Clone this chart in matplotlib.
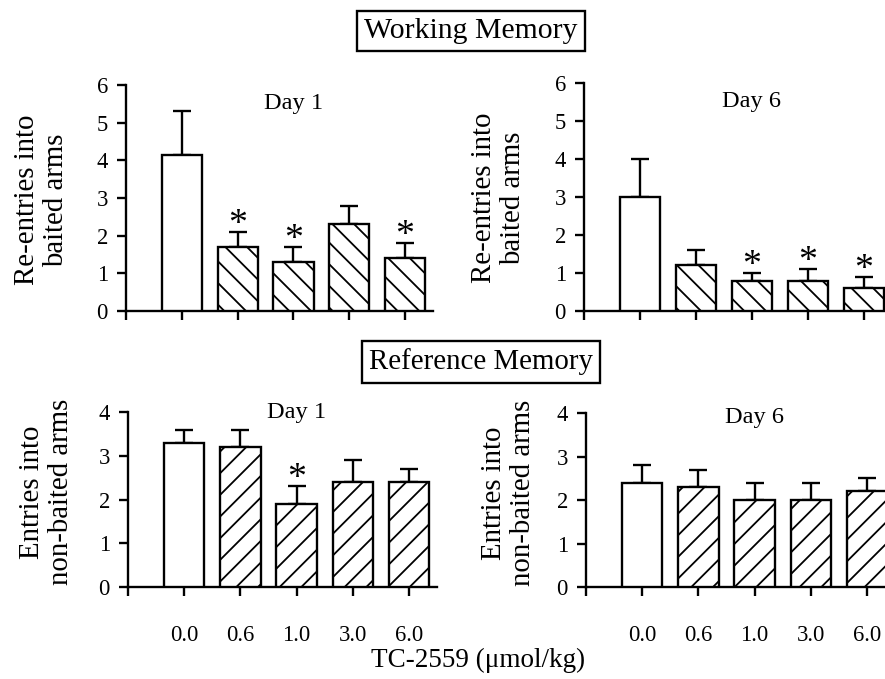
import numpy as np
import matplotlib
matplotlib.use("Agg")
import matplotlib.pyplot as plt

plt.rcParams['font.family'] = ['Liberation Serif', 'DejaVu Serif']
plt.rcParams['hatch.linewidth'] = 1.0
plt.rcParams['hatch.color'] = 'black'

W, H, DPI = 885, 679, 130

doses = ['0.0', '0.6', '1.0', '3.0', '6.0']

# Working memory: re-entries into baited arms
wm_day1 = [4.15, 1.7, 1.3, 2.3, 1.4]
wm_day1_err = [1.15, 0.4, 0.4, 0.5, 0.4]
wm_day1_sig = [False, True, True, False, True]

wm_day6 = [3.0, 1.2, 0.8, 0.8, 0.6]
wm_day6_err = [1.0, 0.4, 0.2, 0.3, 0.3]
wm_day6_sig = [False, False, True, True, True]

# Reference memory: entries into non-baited arms
rm_day1 = [3.3, 3.2, 1.9, 2.4, 2.4]
rm_day1_err = [0.3, 0.4, 0.4, 0.5, 0.3]
rm_day1_sig = [False, False, True, False, False]

rm_day6 = [2.4, 2.3, 2.0, 2.0, 2.2]
rm_day6_err = [0.4, 0.4, 0.4, 0.4, 0.3]
rm_day6_sig = [False] * 5


def px_rect(left, right, bottom, top):
    return [left / W, 1 - bottom / H, (right - left) / W, (bottom - top) / H]


def draw_panel(rect, vals, errs, sig, ymax, hatch, title, title_y, show_labels):
    ax = fig.add_axes(rect)
    x = np.arange(1, len(vals) + 1)
    colors = ['white'] * len(vals)
    hatches = [''] + [hatch] * (len(vals) - 1)
    bars = ax.bar(x, vals, width=0.72, color=colors, edgecolor='black', linewidth=1.3, zorder=3)
    for b, h in zip(bars, hatches):
        b.set_hatch(h)
    ax.errorbar(x, vals, yerr=[np.zeros(len(vals)), errs], fmt='none', ecolor='black',
                elinewidth=1.3, capsize=5, capthick=1.3, zorder=2)
    for xi, v, e, s in zip(x, vals, errs, sig):
        if s:
            ax.annotate('*', xy=(xi, v + e), xytext=(0, -1), textcoords='offset points',
                        ha='center', va='baseline', fontsize=21)
    ax.set_xlim(0, 5.5)
    ax.set_ylim(0, ymax)
    ax.set_yticks(range(0, ymax + 1))
    ax.set_xticks(range(0, 6))
    if show_labels:
        ax.set_xticklabels([''] + doses)
    else:
        ax.set_xticklabels([''] * 6)
    for sp in ['top', 'right']:
        ax.spines[sp].set_visible(False)
    for sp in ['left', 'bottom']:
        ax.spines[sp].set_linewidth(1.3)
    ax.tick_params(axis='y', direction='out', length=5, width=1.3, pad=5, labelsize=12.5)
    ax.tick_params(axis='x', direction='out', length=5, width=1.3, pad=16, labelsize=12.5)
    ax.text(3, title_y, title, ha='center', va='center', fontsize=13.5)
    ax.patch.set_alpha(0)
    return ax


fig = plt.figure(figsize=(W / DPI, H / DPI), dpi=DPI)

draw_panel(px_rect(126, 433, 311, 85), wm_day1, wm_day1_err, wm_day1_sig, 6, '\\\\', 'Day 1', 5.5, False)
draw_panel(px_rect(584, 892, 311, 83), wm_day6, wm_day6_err, wm_day6_sig, 6, '\\\\', 'Day 6', 5.5, False)
draw_panel(px_rect(128, 437, 587, 412), rm_day1, rm_day1_err, rm_day1_sig, 4, '//', 'Day 1', 4.0, True)
draw_panel(px_rect(586, 895, 587, 413), rm_day6, rm_day6_err, rm_day6_sig, 4, '//', 'Day 6', 3.9, True)

# y labels
ylab = dict(rotation=90, ha='center', va='center', fontsize=16, linespacing=1.15)
fig.text(42 / W, 1 - 200 / H, 'Re-entries into\nbaited arms', **ylab)
fig.text(499 / W, 1 - 198 / H, 'Re-entries into\nbaited arms', **ylab)
fig.text(47 / W, 1 - 492 / H, 'Entries into\nnon-baited arms', **ylab)
fig.text(509 / W, 1 - 493 / H, 'Entries into\nnon-baited arms', **ylab)

box = dict(facecolor='white', edgecolor='black', linewidth=1.3, boxstyle='square,pad=0.25')
fig.text(471 / W, 1 - 31 / H, 'Working Memory', ha='center', va='center', fontsize=16.5, bbox=box)
fig.text(481 / W, 1 - 362 / H, 'Reference Memory', ha='center', va='center', fontsize=16, bbox=box)
fig.text(478 / W, 1 - 660 / H, 'TC-2559 (μmol/kg)', ha='center', va='center', fontsize=15)

fig.savefig('out.png', dpi=DPI)
